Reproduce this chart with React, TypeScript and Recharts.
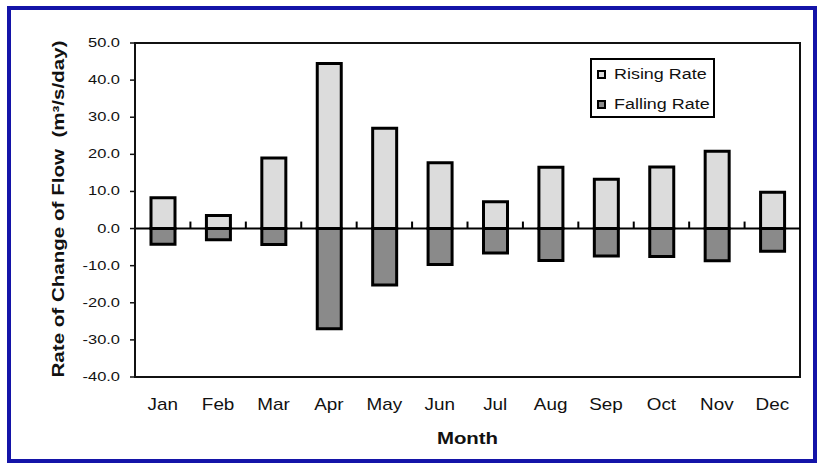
import React from 'react';
import { BarChart, Bar, XAxis, YAxis, ReferenceLine, ReferenceArea, Legend, Label } from 'recharts';

const months = ['Jan', 'Feb', 'Mar', 'Apr', 'May', 'Jun', 'Jul', 'Aug', 'Sep', 'Oct', 'Nov', 'Dec'];
const risingRate = [8.3, 3.5, 19.0, 44.5, 27.0, 17.7, 7.2, 16.5, 13.3, 16.6, 20.8, 9.8];
const fallingRate = [-4.2, -3.0, -4.3, -27.0, -15.2, -9.7, -6.6, -8.6, -7.4, -7.5, -8.7, -6.1];
const yTicks = [-40, -30, -20, -10, 0, 10, 20, 30, 40, 50];
const seriesNames = ['Rising Rate', 'Falling Rate'];

const data = months.map((m, i) => ({ month: m, rising: risingRate[i], falling: fallingRate[i] }));

const FONT = '"Liberation Sans", Arial, sans-serif';

const YTick = (props: any) => {
  const { x, y, payload } = props;
  return (
    <text
      x={x}
      y={y}
      dy={4}
      textAnchor="end"
      fontSize={12}
      fontFamily={FONT}
      fill="#111"
      transform={`translate(${x} ${y}) scale(1.37 1) translate(${-x} ${-y})`}
    >
      {Number(payload.value).toFixed(1)}
    </text>
  );
};

const XTick = (props: any) => {
  const { x, y, payload } = props;
  const by = y + 33;
  return (
    <text
      x={x}
      y={by}
      textAnchor="middle"
      fontSize={16}
      fontFamily={FONT}
      fill="#111"
      transform={`translate(${x} ${by}) scale(1.18 1) translate(${-x} ${-by})`}
    >
      {payload.value}
    </text>
  );
};

const MonthLabel = (props: any) => {
  const vb = props.viewBox || {};
  const cx = vb.x + vb.width / 2;
  const y = vb.y + 67;
  return (
    <text
      x={cx}
      y={y}
      textAnchor="middle"
      fontSize={17}
      fontWeight="bold"
      fontFamily={FONT}
      fill="#111"
      transform={`translate(${cx} ${y}) scale(1.2 1) translate(${-cx} ${-y})`}
    >
      Month
    </text>
  );
};

const YLabel = (props: any) => {
  const vb = props.viewBox || {};
  const x = vb.x + 64;
  const cy = vb.y + vb.height / 2 - 1;
  return (
    <text
      x={x}
      y={cy}
      textAnchor="middle"
      fontSize={16}
      fontWeight="bold"
      fontFamily={FONT}
      fill="#111"
      textLength={337}
      lengthAdjust="spacingAndGlyphs"
      style={{ whiteSpace: 'pre' }}
      transform={`rotate(-90 ${x} ${cy})`}
    >
      {'Rate of Change of Flow  (m³/s/day)'}
    </text>
  );
};

const ZeroLine = (props: any) => {
  const { x1, y1, x2 } = props;
  const n = months.length;
  const step = (x2 - x1) / n;
  const ticks = [];
  for (let i = 1; i < n; i++) {
    const tx = x1 + i * step;
    ticks.push(<line key={i} x1={tx} x2={tx} y1={y1} y2={y1 - 7} stroke="#000" strokeWidth={2} />);
  }
  return (
    <g>
      <line x1={x1} x2={x2} y1={y1} y2={y1} stroke="#000" strokeWidth={2} />
      {ticks}
    </g>
  );
};

const LegendContent = (props: any) => {
  const payload = [...(props.payload || [])].sort(
    (a: any, b: any) => seriesNames.indexOf(a.value) - seriesNames.indexOf(b.value)
  );
  return (
    <div
      style={{
        width: 121,
        height: 56,
        border: '2px solid #000',
        background: '#fff',
        boxSizing: 'content-box',
        fontFamily: FONT,
        fontSize: 14,
        color: '#111',
        position: 'relative',
      }}
    >
      {payload.map((p: any, i: number) => (
        <div
          key={i}
          style={{ position: 'absolute', left: 5, top: 5 + i * 30, height: 18, display: 'flex', alignItems: 'center' }}
        >
          <span
            style={{
              display: 'inline-block',
              width: 5,
              height: 5,
              border: '2px solid #000',
              background: p.color,
              marginRight: 8,
            }}
          />
          <span style={{ display: 'inline-block', transform: 'scaleX(1.28)', transformOrigin: 'left center', whiteSpace: 'nowrap' }}>
            {p.value}
          </span>
        </div>
      ))}
    </div>
  );
};

export default function App() {
  return (
    <div style={{ position: 'absolute', left: 0, top: 0, width: 820, height: 466, background: '#fff' }}>
      <div
        style={{
          position: 'absolute',
          left: 7,
          top: 6,
          width: 810,
          height: 457,
          border: '4px solid #1414a8',
          boxSizing: 'border-box',
        }}
      />
      <div style={{ position: 'absolute', left: 0, top: 0 }}>
        <BarChart
          width={820}
          height={466}
          data={data}
          stackOffset="sign"
          margin={{ top: 43, right: 20, bottom: 49, left: 0 }}
        >
          <ReferenceArea y1={-40} y2={50} fill="none" stroke="#111" strokeWidth={2} />
          <XAxis
            dataKey="month"
            height={40}
            axisLine={false}
            tickLine={false}
            tickSize={0}
            tickMargin={0}
            tick={<XTick />}
            interval={0}
          >
            <Label content={<MonthLabel />} />
          </XAxis>
          <YAxis
            width={135}
            domain={[-40, 50]}
            ticks={yTicks}
            allowDataOverflow
            axisLine={{ stroke: '#111', strokeWidth: 2 }}
            tickLine={{ stroke: '#111', strokeWidth: 1.5 }}
            tickSize={5}
            tickMargin={10}
            tick={<YTick />}
            interval={0}
          >
            <Label content={<YLabel />} />
          </YAxis>
          <Legend
            layout="vertical"
            align="center"
            verticalAlign="middle"
            content={<LegendContent />}
            wrapperStyle={{ position: 'absolute', left: 590, top: 58, width: 125, height: 60 }}
          />
          <Bar dataKey="rising" name={seriesNames[0]} stackId="a" fill="#dcdcdc" stroke="#000" strokeWidth={3} barSize={24} isAnimationActive={false} />
          <Bar dataKey="falling" name={seriesNames[1]} stackId="a" fill="#8a8a8a" stroke="#000" strokeWidth={3} barSize={24} isAnimationActive={false} />
          <ReferenceLine y={0} shape={<ZeroLine />} />
        </BarChart>
      </div>
    </div>
  );
}
